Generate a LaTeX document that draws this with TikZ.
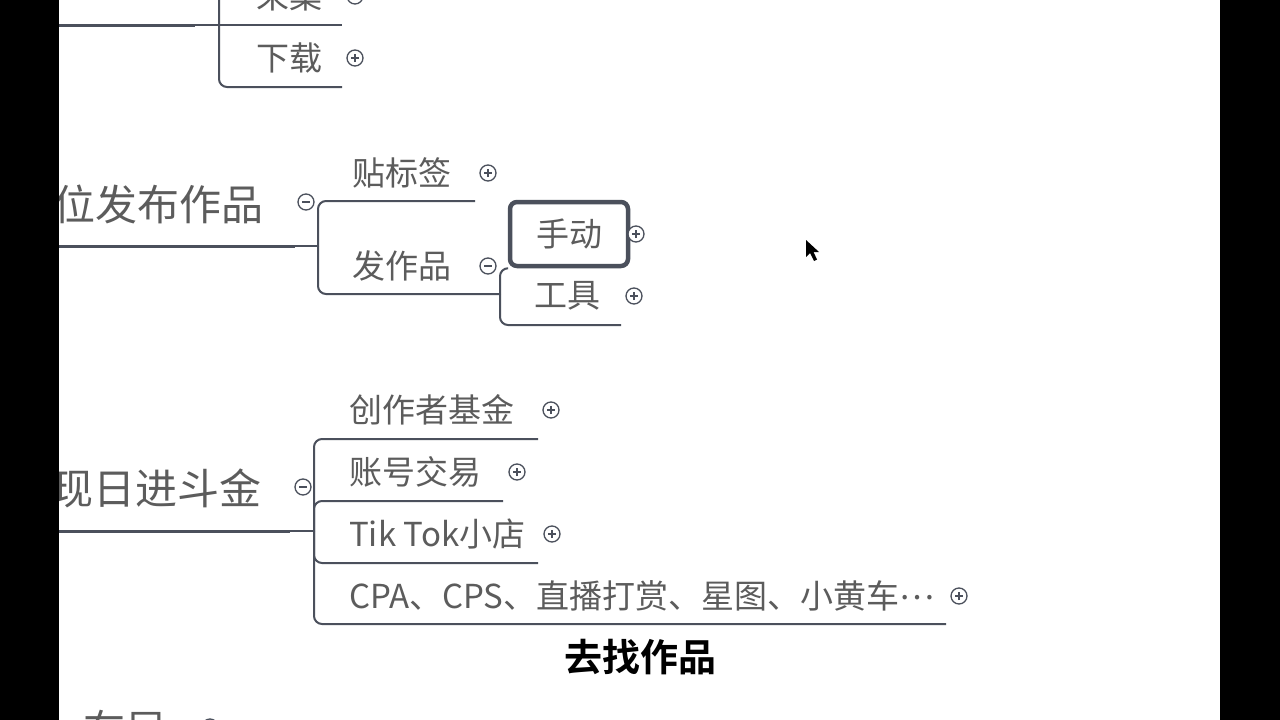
\documentclass[tikz,border=0pt]{standalone}
\usepackage{fontspec}
\newfontfamily\cjk{Noto Sans CJK SC}
\newfontfamily\cjkb{Noto Sans CJK SC Bold}
\definecolor{linec}{HTML}{4B505C}
\definecolor{textc}{HTML}{5C5C5C}
\tikzset{
  conn/.style={draw=linec, line width=2pt, rounded corners=8pt},
  trunk/.style={draw=linec, line width=3pt},
  child/.style={font=\cjk\fontsize{33}{36}\selectfont, text=textc, inner sep=0pt, anchor=west},
  big/.style={font=\cjk\fontsize{42}{46}\selectfont, text=textc, inner sep=0pt, anchor=east},
  tog/.style={circle, draw=linec, line width=1.3pt, minimum size=16pt, inner sep=0pt, fill=white},
  tplus/.style={tog, path picture={\draw[linec, line width=1.3pt]
     ([xshift=-4pt]path picture bounding box.center) -- ([xshift=4pt]path picture bounding box.center)
     ([yshift=-4pt]path picture bounding box.center) -- ([yshift=4pt]path picture bounding box.center);}},
  tminus/.style={tog, path picture={\draw[linec, line width=1.3pt]
     ([xshift=-4pt]path picture bounding box.center) -- ([xshift=4pt]path picture bounding box.center);}},
  subt/.style={font=\cjkb\fontsize{38}{42}\selectfont, inner sep=0pt}
}
\begin{document}
\begin{tikzpicture}[x=1pt,y=-1pt]
\useasboundingbox (0,0) rectangle (1280,720);
\clip (0,0) rectangle (1280,720);
\fill[white] (0,0) rectangle (1280,720);

% ---------- top section ----------
\coordinate (p1) at (219,25);
\draw[trunk] (40,25) -- (195,25);
\draw[conn] (195,25) -- (p1);
\draw[conn] (p1) |- (342,-40);
\draw[conn] (p1) -- (342,25);
\draw[conn] (p1) |- (342,87);
\node[child] (caiji) at (256,-4) {采集};
\node[tplus] (caijit) at (355,-4) {};
\node[child] (xiazai) at (256,58) {下载};
\node[tplus] (xiazait) at (355,58) {};

% ---------- middle section ----------
\coordinate (p2) at (318,246);
\node[big] (fabu) at (264,204) {位发布作品};
\draw[trunk] (40,246) -- (295,246);
\draw[conn] (295,246) -- (p2);
\node[tminus] (fabut) at (306,202) {};
\draw[conn] (p2) |- (475,201);
\draw[conn] (p2) |- (500,294);
\node[child] (tie) at (352,173) {贴标签};
\node[tplus] (tiet) at (488,173) {};
\node[child] (fzp) at (352,266) {发作品};
\node[tminus] (fzpt) at (488,266) {};

\coordinate (p3) at (500,294);
\node[draw=linec, line width=4.5pt, rounded corners=7pt, minimum width=118pt, minimum height=64pt,
      inner sep=0pt, font=\cjk\fontsize{33}{36}\selectfont, text=textc] (shoudong) at (569,234) {手动};
\draw[conn] (p3) |- (shoudong.south west);
\draw[conn] (p3) |- (621,325);
\node[tplus] (shoudongt) at (636,234) {};
\node[child] (gongju) at (534,296) {工具};
\node[tplus] (gongjut) at (634,296) {};

% cursor
\fill[black] (806,240) -- (806,257) -- (810,253) -- (814,261) -- (817,259.5) -- (813.5,252) -- (819,252) -- cycle;

% ---------- bottom section ----------
\coordinate (p4) at (314,531);
\node[big] (jin) at (262,488) {现日进斗金};
\draw[trunk] (40,531) -- (290,531);
\draw[conn] (290,531) -- (p4);
\node[tminus] (jint) at (303,487) {};
\draw[conn] (p4) |- (538,439);
\draw[conn] (p4) |- (503,501);
\draw[conn] (p4) |- (538,563);
\draw[conn] (p4) |- (946,624);
\node[child] (jijin) at (349,410) {创作者基金};
\node[tplus] (jijint) at (551,410) {};
\node[child] (zhanghao) at (349,472) {账号交易};
\node[tplus] (zhanghaot) at (517,472) {};
\node[child] (tiktok) at (349,534) {Tik Tok小店};
\node[tplus] (tiktokt) at (552,534) {};
\node[child] (cpa) at (349,596) {CPA、CPS、直播打赏、星图、小黄车\raisebox{9pt}{…}};
\node[tplus] (cpat) at (959,596) {};

% partial bottom node
\node[big] (buju) at (168,730) {布局};
\node[tminus] (bujut) at (210,727) {};

% ---------- subtitle ----------
\node[subt, text=black] (sub) at (640,657) {去找作品};

% ---------- black side bars ----------
\fill[black] (0,0) rectangle (59,720);
\fill[black] (1220,0) rectangle (1280,720);
\end{tikzpicture}
\end{document}
